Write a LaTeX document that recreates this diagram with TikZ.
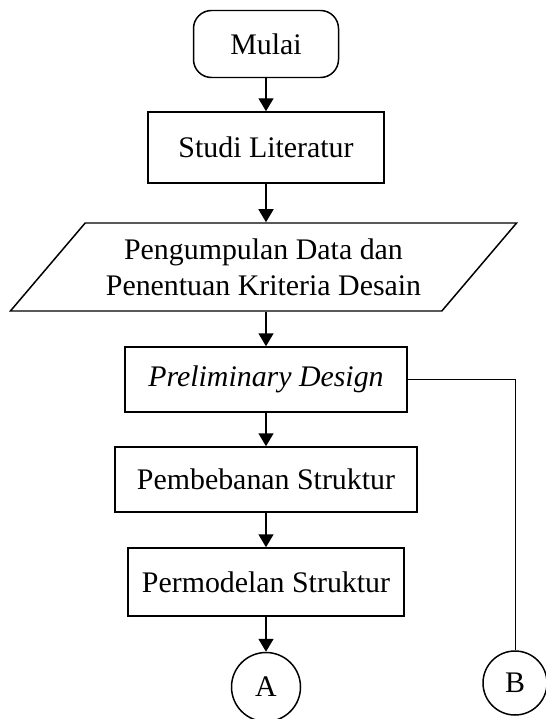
\documentclass[tikz,border=0pt]{standalone}
\usepackage{fontspec}
\setmainfont{Liberation Serif}
\usetikzlibrary{shapes.geometric,arrows.meta}

\begin{document}
\begin{tikzpicture}[
    font=\fontsize{17}{20.5}\selectfont,
    box/.style={draw, line width=0.85pt, minimum height=1.3cm, inner sep=0pt},
    flow/.style={-{Triangle[length=0.26cm,width=0.3cm]}, line width=0.85pt},
    konektor/.style={draw, circle, line width=0.85pt, minimum size=1.38cm, inner sep=0pt}
]
    \useasboundingbox (0,0) rectangle (10.92,-14.38);
    \node[box, rounded corners=0.36cm, minimum width=2.9cm, minimum height=1.34cm] (mulai) at (5.32,-0.88) {Mulai};
    \node[box, minimum width=4.72cm, minimum height=1.42cm] (studi) at (5.32,-2.95) {Studi Literatur};
    \node[box, trapezium, trapezium stretches, trapezium left angle=40.8, trapezium right angle=139.2, minimum width=10.14cm, minimum height=1.76cm, align=center] (data) at (5.27,-5.34) {Pengumpulan Data dan\\Penentuan Kriteria Desain};
    \node[box, minimum width=5.64cm] (prelim) at (5.32,-7.59) {\textit{Preliminary Design}};
    \node[box, minimum width=6.04cm] (beban) at (5.32,-9.59) {Pembebanan Struktur};
    \node[box, minimum width=5.52cm, minimum height=1.36cm] (model) at (5.32,-11.64) {Permodelan Struktur};
    \node[konektor] (A) at (5.32,-13.74) {A};
    \node[konektor, minimum size=1.28cm] (B) at (10.3,-13.66) {B};
    \draw[flow] (mulai) -- (studi);
    \draw[flow] (studi) -- (studi.south |- data.north);
    \draw[flow] (prelim.north |- data.south) -- (prelim);
    \draw[flow] (prelim) -- (beban);
    \draw[flow] (beban) -- (model);
    \draw[flow] (model) -- (A);
    \draw[line width=0.3pt] (prelim.east) -| (B);
\end{tikzpicture}
\end{document}
